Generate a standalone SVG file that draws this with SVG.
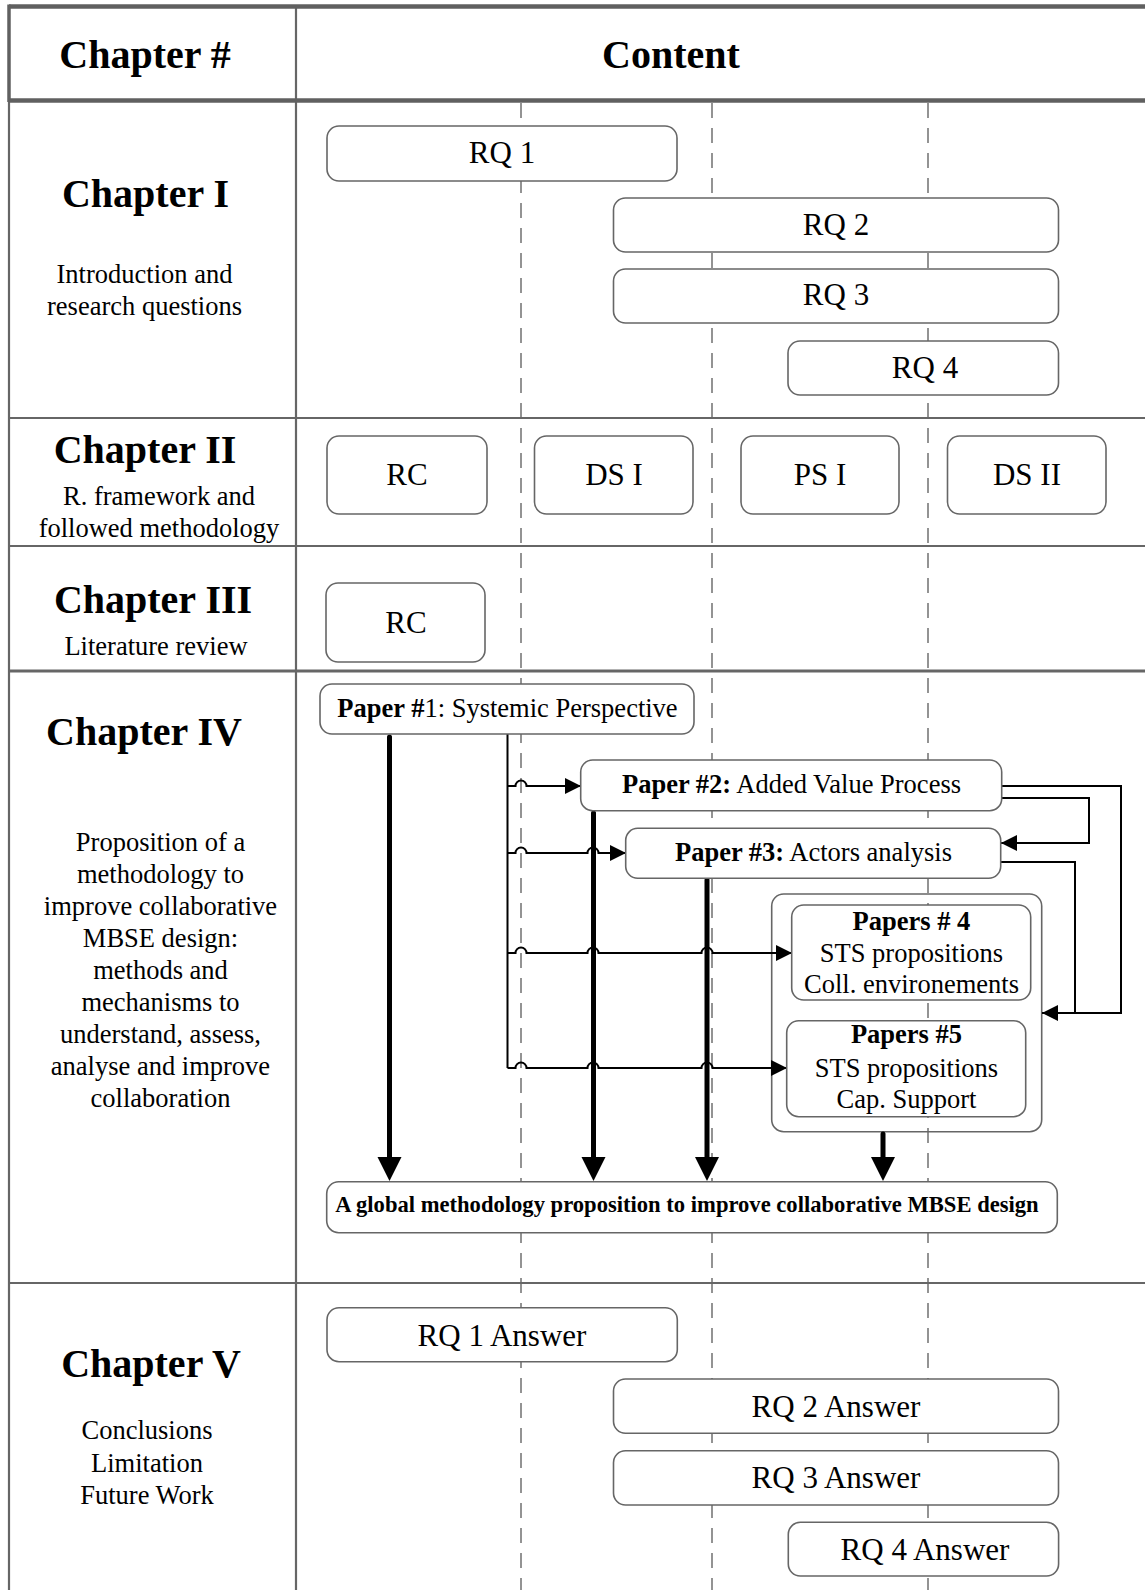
<svg xmlns="http://www.w3.org/2000/svg" width="1145" height="1590" viewBox="0 0 1145 1590">
<style>
text{font-family:"Liberation Serif","Times New Roman",serif;fill:#000}
.ch{font-size:40px;font-weight:bold;text-anchor:middle}
.sub{font-size:26.5px;text-anchor:middle}
.rq{font-size:31px;text-anchor:middle}
.pp{font-size:26.5px;text-anchor:middle}
.b{font-weight:bold}
.box{fill:#fff;stroke:#666;stroke-width:1.6}
.frame{fill:none;stroke:#666;stroke-width:1.6}
.grid{stroke:#666;stroke-width:2.2;fill:none}
.thick{stroke:#606060;stroke-width:4.5;fill:none}
.dash{stroke:#888;stroke-width:1.8;stroke-dasharray:15 10;fill:none}
.thin{stroke:#000;stroke-width:2;fill:none}
.fat{stroke:#000;stroke-width:5;fill:none;stroke-linecap:round}
</style>
<defs>
<marker id="ah" markerUnits="userSpaceOnUse" markerWidth="17" markerHeight="16" refX="16" refY="8" orient="auto">
<path d="M0,0 L16,8 L0,16 z" fill="#000"/>
</marker>
</defs>
<rect width="1145" height="1590" fill="#fff"/>

<g id="guides">
<line class="dash" x1="521" y1="103" x2="521" y2="1590"/>
<line class="dash" x1="712" y1="103" x2="712" y2="1590"/>
<line class="dash" x1="928" y1="103" x2="928" y2="1590"/>
</g>

<g id="table">
<line class="grid" x1="9" y1="100" x2="9" y2="1590"/>
<line class="grid" x1="296" y1="6" x2="296" y2="1590"/>
<line class="grid" x1="9" y1="418" x2="1145" y2="418"/>
<line class="grid" x1="9" y1="546" x2="1145" y2="546"/>
<line class="grid" x1="9" y1="671" x2="1145" y2="671" style="stroke-width:3.2"/>
<line class="grid" x1="9" y1="1283" x2="1145" y2="1283"/>
<line class="thick" x1="9" y1="6.5" x2="1145" y2="6.5"/>
<line class="thick" x1="9" y1="100.5" x2="1145" y2="100.5"/>
<line class="thick" x1="9" y1="4.5" x2="9" y2="102" style="stroke-width:3.5"/>
</g>

<g id="chapters">
<text class="ch" x="145" y="68">Chapter #</text>
<text class="ch" x="671" y="68">Content</text>
<text class="ch" x="145.5" y="207">Chapter I</text>
<text class="sub" x="144.5" y="283">Introduction and</text>
<text class="sub" x="144.5" y="315">research questions</text>
<text class="ch" x="145" y="463">Chapter II</text>
<text class="sub" x="159" y="505">R. framework and</text>
<text class="sub" x="159" y="537">followed methodology</text>
<text class="ch" x="153" y="613">Chapter III</text>
<text class="sub" x="156" y="655">Literature review</text>
<text class="ch" x="144" y="745">Chapter IV</text>
<text class="sub" x="160.5" y="850.5">Proposition of a</text>
<text class="sub" x="160.5" y="882.6">methodology to</text>
<text class="sub" x="160.5" y="914.7">improve collaborative</text>
<text class="sub" x="160.5" y="946.8">MBSE design:</text>
<text class="sub" x="160.5" y="978.9">methods and</text>
<text class="sub" x="160.5" y="1011">mechanisms to</text>
<text class="sub" x="160.5" y="1043.1">understand, assess,</text>
<text class="sub" x="160.5" y="1075.2">analyse and improve</text>
<text class="sub" x="160.5" y="1107.3">collaboration</text>
<text class="ch" x="151" y="1377">Chapter V</text>
<text class="sub" x="147" y="1439">Conclusions</text>
<text class="sub" x="147" y="1471.5">Limitation</text>
<text class="sub" x="147" y="1504">Future Work</text>
</g>

<g id="papers45">
<rect class="frame" x="771.7" y="894" width="270" height="237.7" rx="12"/>
</g>

<g id="connectors">
<path class="thin" d="M507.5,734 V1068"/>
<path class="thin" marker-end="url(#ah)" d="M507.5,786 H515.5 A5.5,5.5 0 0 1 526.5,786 H581"/>
<path class="thin" marker-end="url(#ah)" d="M507.5,853 H515.5 A5.5,5.5 0 0 1 526.5,853 H587.5 A5.5,5.5 0 0 1 598.5,853 H626"/>
<path class="thin" marker-end="url(#ah)" d="M507.5,953 H515.5 A5.5,5.5 0 0 1 526.5,953 H587.5 A5.5,5.5 0 0 1 598.5,953 H701.5 A5.5,5.5 0 0 1 712.5,953 H792"/>
<path class="thin" marker-end="url(#ah)" d="M507.5,1068 H515.5 A5.5,5.5 0 0 1 526.5,1068 H587.5 A5.5,5.5 0 0 1 598.5,1068 H701.5 A5.5,5.5 0 0 1 712.5,1068 H787"/>
<path class="thin" marker-end="url(#ah)" d="M1002,786 H1121 V1013 H1042"/>
<path class="thin" marker-end="url(#ah)" d="M1002,798 H1089 V843 H1001"/>
<path class="thin" d="M1001,862 H1075 V1013"/>
<line class="fat" x1="389.5" y1="737" x2="389.5" y2="1158"/>
<polygon points="377.5,1157 401.5,1157 389.5,1181"/>
<line class="fat" x1="593.5" y1="813" x2="593.5" y2="1158"/>
<polygon points="581.5,1157 605.5,1157 593.5,1181"/>
<line class="fat" x1="707" y1="880" x2="707" y2="1158"/>
<polygon points="695,1157 719,1157 707,1181"/>
<line class="fat" x1="883" y1="1134" x2="883" y2="1158"/>
<polygon points="871,1157 895,1157 883,1181"/>
</g>

<g id="rq1"><rect class="box" x="327" y="126" width="350" height="55" rx="12"/><text class="rq" x="502" y="163">RQ 1</text></g>
<g id="rq2"><rect class="box" x="613.5" y="198" width="445" height="54" rx="12"/><text class="rq" x="836" y="235">RQ 2</text></g>
<g id="rq3"><rect class="box" x="613.5" y="269" width="445" height="54" rx="12"/><text class="rq" x="836" y="305">RQ 3</text></g>
<g id="rq4"><rect class="box" x="788" y="341" width="270.5" height="54" rx="12"/><text class="rq" x="925" y="378">RQ 4</text></g>

<g id="rc2"><rect class="box" x="327" y="436" width="160" height="78" rx="12"/><text class="rq" x="407" y="485">RC</text></g>
<g id="ds1"><rect class="box" x="534.5" y="436" width="158.5" height="78" rx="12"/><text class="rq" x="614" y="485">DS I</text></g>
<g id="ps1"><rect class="box" x="741" y="436" width="158" height="78" rx="12"/><text class="rq" x="820" y="485">PS I</text></g>
<g id="ds2"><rect class="box" x="947.5" y="436" width="158.5" height="78" rx="12"/><text class="rq" x="1027" y="485">DS II</text></g>

<g id="rc3"><rect class="box" x="326" y="583" width="159" height="79" rx="12"/><text class="rq" x="406" y="633">RC</text></g>

<g id="paper1"><rect class="box" x="320" y="684" width="374" height="50" rx="12"/><text class="pp" x="507.5" y="716.7"><tspan class="b">Paper #</tspan>1: Systemic Perspective</text></g>
<g id="paper2"><rect class="box" x="580.7" y="760" width="421" height="50.7" rx="12"/><text class="pp" x="791.5" y="793.3"><tspan class="b">Paper #2:</tspan> Added Value Process</text></g>
<g id="paper3"><rect class="box" x="625.7" y="828.3" width="375" height="50" rx="12"/><text class="pp" x="813.5" y="860.7"><tspan class="b">Paper #3:</tspan> Actors analysis</text></g>

<g id="paper4"><rect class="box" x="791.7" y="905" width="239" height="95" rx="12"/>
<text class="pp b" x="911.5" y="930">Papers # 4</text>
<text class="pp" x="911.5" y="961.7">STS propositions</text>
<text class="pp" x="911.5" y="993.3">Coll. environements</text></g>
<g id="paper5"><rect class="box" x="786.7" y="1020.7" width="239" height="96" rx="12"/>
<text class="pp b" x="906.5" y="1043.3">Papers #5</text>
<text class="pp" x="906.5" y="1076.7">STS propositions</text>
<text class="pp" x="906.5" y="1108.3">Cap. Support</text></g>

<g id="global"><rect class="box" x="326.7" y="1181.7" width="730.6" height="51" rx="12"/>
<text x="687" y="1211.7" style="font-size:22.6px;font-weight:bold;text-anchor:middle">A global methodology proposition to improve collaborative MBSE design</text></g>

<g id="ans1"><rect class="box" x="327" y="1307.7" width="350.3" height="54" rx="12"/><text class="rq" x="502" y="1346">RQ 1 Answer</text></g>
<g id="ans2"><rect class="box" x="613.5" y="1379" width="445" height="54.3" rx="12"/><text class="rq" x="836" y="1416.7">RQ 2 Answer</text></g>
<g id="ans3"><rect class="box" x="613.5" y="1450.7" width="445" height="54.3" rx="12"/><text class="rq" x="836" y="1488.3">RQ 3 Answer</text></g>
<g id="ans4"><rect class="box" x="788.3" y="1522.3" width="270.3" height="53.7" rx="12"/><text class="rq" x="925" y="1560">RQ 4 Answer</text></g>
</svg>
